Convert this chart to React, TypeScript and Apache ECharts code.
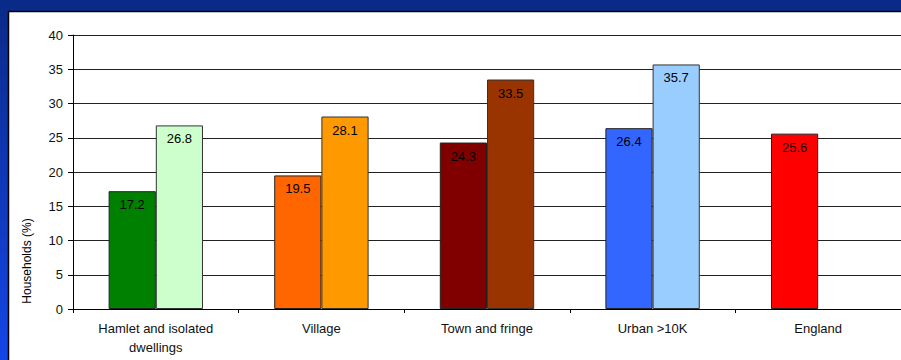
import React, { useEffect, useRef } from "react";
import * as echarts from "echarts";

const categories = ["Hamlet and isolated\ndwellings", "Village", "Town and fringe", "Urban >10K", "England"];
const seriesA = [17.2, 19.5, 24.3, 26.4, 25.6];
const seriesB: (number | null)[] = [26.8, 28.1, 33.5, 35.7, null];
const colorsA = ["#008000", "#ff6600", "#800000", "#3366ff", "#ff0000"];
const colorsB = ["#ccffcc", "#ff9900", "#993300", "#99ccff", "#ffffff"];
const yTicks = { min: 0, max: 40, interval: 5 };
const yName = "Households (%)";

export default function App() {
  const ref = useRef<HTMLDivElement>(null);
  useEffect(() => {
    if (!ref.current) return;
    const chart = echarts.init(ref.current, null, { renderer: "svg" });
    const font = "Liberation Sans, Arial, sans-serif";
    const labelCfg = {
      show: true,
      position: "insideTop" as const,
      distance: 7,
      color: "#000",
      fontSize: 13,
      fontFamily: font,
    };
    chart.setOption({
      animation: false,
      backgroundColor: new echarts.graphic.LinearGradient(0, 0, 0, 1, [
        { offset: 0, color: "#0a2a88" },
        { offset: 1, color: "#1446e6" },
      ]),
      graphic: [
        {
          type: "rect",
          shape: { x: 8.5, y: 11.5, width: 900, height: 360 },
          style: { fill: "#ffffff", stroke: "#000", lineWidth: 1.5 },
          z: -1,
        },
        {
          type: "text",
          x: 27,
          y: 261,
          rotation: Math.PI / 2,
          style: {
            text: yName,
            fill: "#000",
            fontSize: 12,
            fontFamily: font,
            align: "center",
            verticalAlign: "middle",
          },
        },
      ],
      grid: { left: 73, top: 35, width: 833, height: 274, containLabel: false },
      xAxis: {
        type: "category",
        data: categories,
        axisLine: { lineStyle: { color: "#000", width: 1 } },
        axisTick: { show: true, length: 4, alignWithLabel: false, lineStyle: { color: "#000" } },
        axisLabel: { color: "#111", fontSize: 13, fontFamily: font, margin: 10, lineHeight: 19, interval: 0 },
        splitLine: { show: false },
      },
      yAxis: {
        type: "value",
        min: yTicks.min,
        max: yTicks.max,
        interval: yTicks.interval,
        axisLine: { show: true, lineStyle: { color: "#000", width: 1 } },
        axisTick: { show: true, length: 5, lineStyle: { color: "#000" } },
        axisLabel: { color: "#111", fontSize: 13, fontFamily: font, margin: 10 },
        splitLine: { show: true, lineStyle: { color: "#222", width: 1 } },
      },
      series: [
        {
          type: "bar",
          barWidth: "28.5%",
          barGap: "0%",
          data: seriesA.map((v, i) => ({
            value: v,
            itemStyle: { color: colorsA[i], borderColor: "#222", borderWidth: 1 },
          })),
          label: labelCfg,
        },
        {
          type: "bar",
          barWidth: "28.5%",
          barGap: "0%",
          data: seriesB.map((v, i) => ({
            value: v,
            itemStyle: { color: colorsB[i], borderColor: "#333", borderWidth: 1 },
          })),
          label: labelCfg,
        },
      ],
    });
    return () => chart.dispose();
  }, []);
  return (
    <div
      ref={ref}
      style={{ position: "fixed", left: 0, top: 0, width: 901, height: 360 }}
    />
  );
}
